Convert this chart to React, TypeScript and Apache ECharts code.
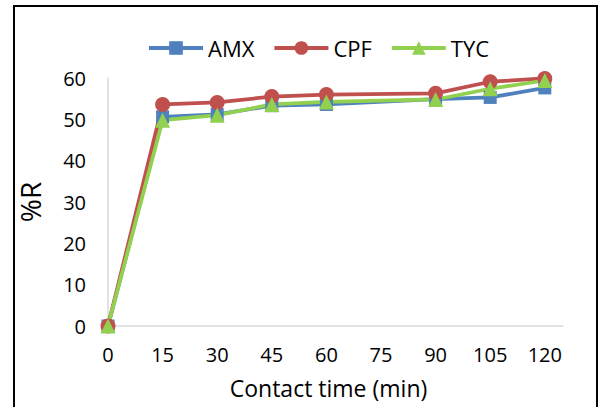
import React, { useEffect, useRef } from "react";
import * as echarts from "echarts";

const timeTicks = [0, 15, 30, 45, 60, 75, 90, 105, 120];
const timePoints = [0, 15, 30, 45, 60, 90, 105, 120];
const amx = [0, 50.6, 51.2, 53.3, 53.6, 54.9, 55.3, 57.6];
const cpf = [0, 53.6, 54.1, 55.5, 56.0, 56.3, 59.1, 59.9];
const tyc = [0, 49.8, 51.0, 53.6, 54.2, 54.8, 57.4, 59.4];

const FONT = "Open Sans";

function pairs(vals: number[]) {
  return timePoints.map((t, i) => [t, vals[i]]);
}

export default function App() {
  const ref = useRef<HTMLDivElement>(null);
  useEffect(() => {
    document.body.style.margin = "0";
    if (!ref.current) return;
    const chart = echarts.init(ref.current, null, { renderer: "svg" });
    const mk = (name: string, data: number[], color: string, symbol: string, size: number) => ({
      name,
      type: "line",
      data: pairs(data),
      symbol,
      symbolSize: size,
      showSymbol: true,
      lineStyle: { color, width: 3.75 },
      itemStyle: { color },
      z: 2,
    });
    chart.setOption({
      animation: false,
      backgroundColor: "#ffffff",
      textStyle: { fontFamily: FONT },
      graphic: [
        {
          type: "rect",
          shape: { x: 14, y: 6, width: 583, height: 420 },
          style: { fill: "none", stroke: "#000000", lineWidth: 2 },
          silent: true,
        },
      ],
      legend: {
        top: 32,
        left: 142,
        itemWidth: 54,
        itemHeight: 17,
        itemGap: 18,
        lineStyle: { width: 4 },
        textStyle: { fontSize: 22, color: "#000000", fontFamily: FONT, padding: [0, 0, 0, 0] },
        data: ["AMX", "CPF", "TYC"],
      },
      grid: { left: 108, right: 37, top: 78, bottom: 81, containLabel: false },
      xAxis: {
        type: "value",
        min: 0,
        max: 125,
        name: "Contact time (min)",
        nameLocation: "middle",
        nameGap: 50,
        nameTextStyle: { fontSize: 23, color: "#000000", fontFamily: FONT, padding: [0, 14, 0, 0] },
        axisLine: { show: true, lineStyle: { color: "#d9d9d9", width: 1.5 } },
        axisTick: { show: false },
        splitLine: { show: false },
        axisLabel: {
          customValues: timeTicks,
          fontSize: 20,
          color: "#000000",
          margin: 18,
          fontFamily: FONT,
        },
      },
      yAxis: {
        type: "value",
        min: 0,
        max: 60,
        interval: 10,
        name: "%R",
        nameLocation: "middle",
        nameGap: 64,
        nameTextStyle: { fontSize: 28, color: "#000000", fontFamily: FONT },
        axisLine: { show: true, lineStyle: { color: "#d9d9d9", width: 1.5 } },
        axisTick: { show: false },
        splitLine: { show: false },
        axisLabel: { fontSize: 20, color: "#000000", margin: 22, fontFamily: FONT },
      },
      series: [
        mk("AMX", amx, "#4f81bd", "rect", 13),
        mk("CPF", cpf, "#c0504d", "circle", 15),
        mk("TYC", tyc, "#92d050", "triangle", 15),
      ],
    });
    return () => chart.dispose();
  }, []);
  return <div ref={ref} style={{ width: 600, height: 407 }} />;
}
